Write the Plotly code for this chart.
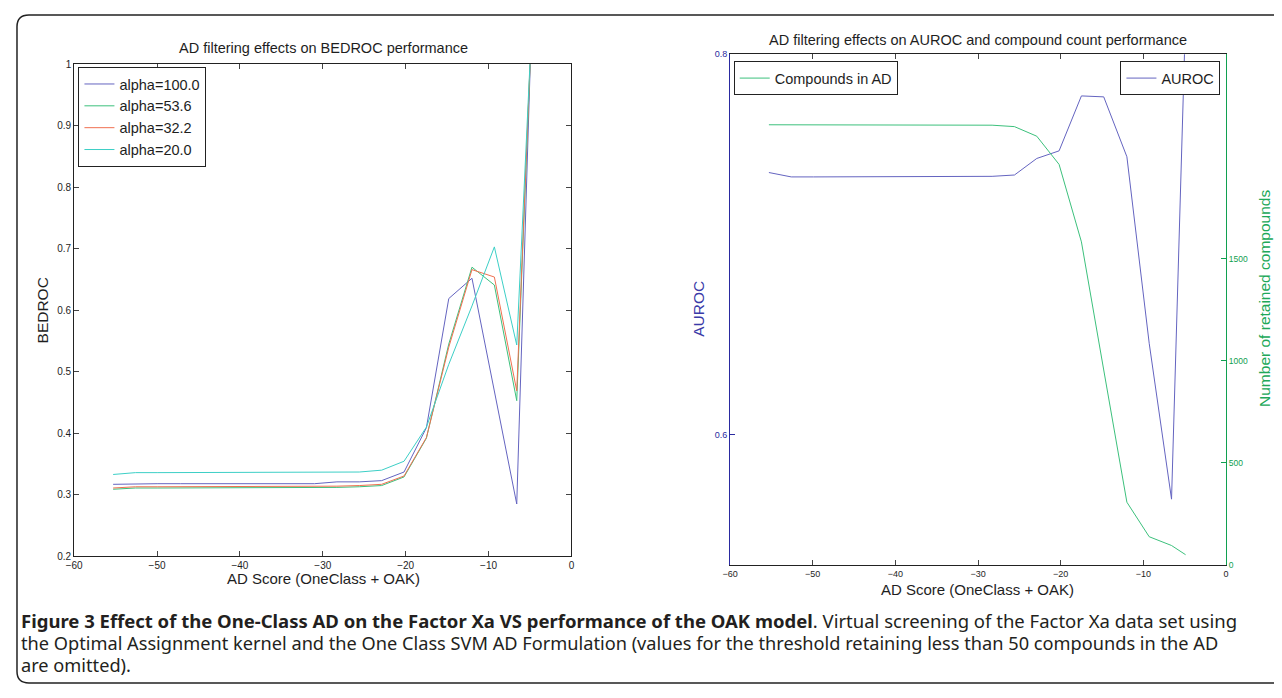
import plotly.graph_objects as go

# ---------------- data ----------------
ad_scores = [-55.3, -52.6, -49.9, -47.2, -44.5, -41.8, -39.1, -36.4, -33.7, -31.0,
             -28.3, -25.6, -22.9, -20.2, -17.5, -14.8, -12.0, -9.3, -6.6, -4.9]

bedroc_alpha_100 = [0.317, 0.318, 0.318, 0.318, 0.318, 0.318, 0.318, 0.318, 0.318, 0.318,
                    0.321, 0.321, 0.323, 0.337, 0.409, 0.619, 0.652, 0.470, 0.285, 1.03]
bedroc_alpha_53_6 = [0.309, 0.311, 0.311, 0.311, 0.311, 0.311, 0.311, 0.311, 0.311, 0.311,
                     0.312, 0.313, 0.315, 0.329, 0.392, 0.545, 0.670, 0.641, 0.453, 1.03]
bedroc_alpha_32_2 = [0.311, 0.313, 0.313, 0.313, 0.313, 0.313, 0.313, 0.313, 0.313, 0.313,
                     0.314, 0.315, 0.317, 0.3305, 0.393, 0.540, 0.666, 0.654, 0.469, 1.03]
bedroc_alpha_20 = [0.333, 0.336, 0.336, 0.336, 0.336, 0.336, 0.336, 0.336, 0.336, 0.336,
                   0.336, 0.337, 0.340, 0.3545, 0.410, 0.512, 0.607, 0.703, 0.5435, 1.03]

auroc = [0.7378, 0.7355, 0.7355, 0.7355, 0.7355, 0.7355, 0.7355, 0.7355, 0.7355, 0.7355,
         0.7358, 0.7365, 0.7452, 0.7492, 0.7781, 0.7776, 0.7461, 0.648, 0.566, 0.82]
compounds_in_ad = [2155, 2155, 2155, 2155, 2155, 2155, 2155, 2155, 2155, 2155,
                   2153, 2146, 2099, 1961, 1582, 955, 308, 139, 96, 51]

series_names = ["alpha=100.0", "alpha=53.6", "alpha=32.2", "alpha=20.0"]
series_values = [bedroc_alpha_100, bedroc_alpha_53_6, bedroc_alpha_32_2, bedroc_alpha_20]

x_ticks = [-60, -50, -40, -30, -20, -10, 0]
bedroc_ticks = [0.2, 0.3, 0.4, 0.5, 0.6, 0.7, 0.8, 0.9, 1.0]
bedroc_tick_text = ["0.2", "0.3", "0.4", "0.5", "0.6", "0.7", "0.8", "0.9", "1"]
auroc_ticks = [0.6, 0.8]
count_ticks = [0, 500, 1000, 1500]

# ---------------- styling ----------------
# page body keeps its default 8px margin, so the figure is 16px smaller than the window
OFF = 8
W, H = 1282 - 2 * OFF, 698 - 2 * OFF
def px(v):
    return (v - OFF) / W
def py(v):
    return 1 - (v - OFF) / H

series_colors = ["#6464c0", "#3cc07c", "#f07050", "#3ccfc6"]
AUROC_COL = "#6464c0"
COUNT_COL = "#3cc07c"
AX_BLUE = "#2a2aa0"
AX_GREEN = "#10a050"
FONT = "Liberation Sans, Arial, sans-serif"
TXT = "#1e1e1e"

fig = go.Figure()

for name, vals, col in zip(series_names, series_values, series_colors):
    fig.add_trace(go.Scatter(x=ad_scores, y=vals, mode="lines", name=name,
                             line=dict(color=col, width=1), xaxis="x", yaxis="y",
                             legend="legend"))

fig.add_trace(go.Scatter(x=ad_scores, y=compounds_in_ad, mode="lines", name="Compounds in AD",
                         line=dict(color=COUNT_COL, width=1), xaxis="x2", yaxis="y3",
                         legend="legend2"))
fig.add_trace(go.Scatter(x=ad_scores, y=auroc, mode="lines", name="AUROC",
                         line=dict(color=AUROC_COL, width=1), xaxis="x2", yaxis="y2",
                         legend="legend3"))

axis_common = dict(showline=True, ticks="inside", ticklen=5, showgrid=False,
                   zeroline=False, linewidth=1)

legend_common = dict(xanchor="left", yanchor="top", bordercolor="#222", borderwidth=1,
                     bgcolor="white", font=dict(size=14.5, color=TXT), itemwidth=30,
                     tracegroupgap=0)

fig.update_layout(
    width=W, height=H,
    margin=dict(l=0, r=0, t=0, b=0),
    paper_bgcolor="white", plot_bgcolor="white",
    font=dict(family=FONT, color=TXT),
    xaxis=dict(domain=[px(66.7), px(568.3)], range=[-60, 0], tickvals=x_ticks,
               anchor="y", mirror="ticks", linecolor="#222", tickcolor="#444",
               tickfont=dict(size=10, color=TXT), **axis_common),
    yaxis=dict(domain=[py(560), py(59.1)], range=[0.2, 1.0], tickvals=bedroc_ticks,
               ticktext=bedroc_tick_text,
               anchor="x", mirror="ticks", linecolor="#222", tickcolor="#444",
               tickfont=dict(size=10, color=TXT), **axis_common),
    xaxis2=dict(domain=[px(728.3), px(1228.7)], range=[-60, 0], tickvals=x_ticks,
                anchor="y2", mirror="ticks", linecolor="#222", tickcolor="#444",
                tickfont=dict(size=9, color=TXT), **axis_common),
    yaxis2=dict(domain=[py(569), py(49)], range=[0.5313, 0.8], tickvals=auroc_ticks,
                anchor="x2", linecolor=AX_BLUE, tickcolor=AX_BLUE,
                tickfont=dict(size=9, color=AX_BLUE), **axis_common),
    yaxis3=dict(range=[0, 2500], tickvals=count_ticks, overlaying="y2", side="right",
                anchor="x2", linecolor=AX_GREEN, tickcolor=AX_GREEN,
                tickfont=dict(size=8.5, color=AX_GREEN), **axis_common),
    legend=dict(x=px(71), y=py(62), **legend_common),
    legend2=dict(x=px(732), y=py(56), **legend_common),
    legend3=dict(x=px(1223), y=py(56), **{**legend_common, "xanchor": "right"}),
    showlegend=True,
)

def ann(text, x, y, size, color=TXT, angle=0, xanchor="center", family=FONT):
    fig.add_annotation(text=text, x=px(x), y=py(y), xref="paper", yref="paper",
                       showarrow=False, xanchor=xanchor, yanchor="middle",
                       textangle=angle, font=dict(size=size, color=color, family=family))

ann("AD filtering effects on BEDROC performance", 318, 43, 14.5)
ann("AD filtering effects on AUROC and compound count performance", 978, 34, 14.5)
ann("AD Score (OneClass + OAK)", 318, 583, 15)
ann("AD Score (OneClass + OAK)", 978, 594, 15)
ann("BEDROC", 35, 310, 15.5, angle=-90)
ann("AUROC", 697, 308, 15.5, color="#3a3aa8", angle=-90)
ann("Number of retained compounds", 1268, 298, 15.5, color="#20a858", angle=-90)

CAP_FONT = "Noto Sans, Open Sans, sans-serif"
CAP_COL = "#231f20"
ann("<b>Figure 3 Effect of the One-Class AD on the Factor Xa VS performance of the OAK model</b>. "
    "Virtual screening of the Factor Xa data set using", 11, 625, 18.5, color=CAP_COL,
    xanchor="left", family=CAP_FONT)
ann("the Optimal Assignment kernel and the One Class SVM AD Formulation (values for the threshold "
    "retaining less than 50 compounds in the AD", 11, 648, 18.2, color=CAP_COL,
    xanchor="left", family=CAP_FONT)
ann("are omitted).", 11, 671, 18.2, color=CAP_COL, xanchor="left", family=CAP_FONT)

# rounded frame around the figure
L, T, B, R = px(9), py(9), py(689), px(1300)
rx, ry = 12 / W, 12 / H
path = (f"M {L+rx} {T} L {R} {T} L {R} {B} L {L+rx} {B} Q {L} {B} {L} {B+ry} "
        f"L {L} {T-ry} Q {L} {T} {L+rx} {T} Z")
fig.add_shape(type="path", path=path, xref="paper", yref="paper",
              line=dict(color="#222", width=1.5), layer="above")

fig.write_html("out.html", config={"displayModeBar": False})
